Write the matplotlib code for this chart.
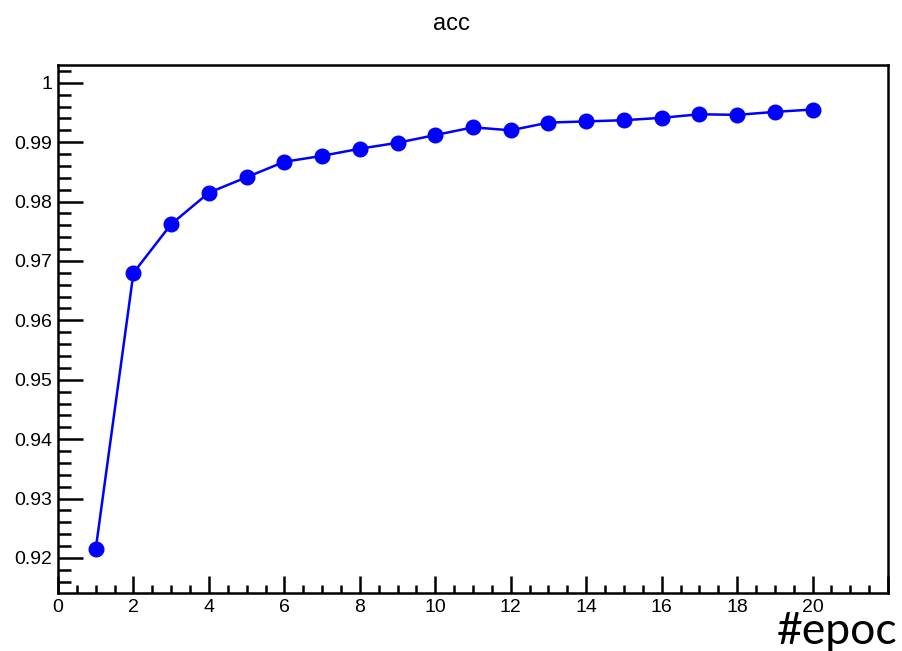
import matplotlib
matplotlib.use("Agg")
import matplotlib.pyplot as plt
from matplotlib.ticker import MultipleLocator

# accuracy per epoch
epochs = list(range(1, 21))
acc = [0.9215, 0.9680, 0.9762, 0.9815, 0.9841, 0.9867, 0.9877, 0.9889, 0.9899, 0.9912,
       0.9925, 0.9920, 0.9933, 0.9935, 0.9937, 0.9941, 0.9947, 0.9946, 0.9951, 0.9955]

plt.rcParams["font.family"] = "Liberation Sans"

fig = plt.figure(figsize=(9.02, 6.51), dpi=100)
ax = fig.add_axes([0.0643, 0.0891, 0.9202, 0.8111])

ax.plot(epochs, acc, "-o", color="#0000ff", linewidth=1.8, markersize=10.5)

ax.set_xlim(0, 22)
ax.set_ylim(0.9141, 1.003)
ax.xaxis.set_major_locator(MultipleLocator(2))
ax.xaxis.set_minor_locator(MultipleLocator(0.5))
ax.yaxis.set_major_locator(MultipleLocator(0.01))
ax.yaxis.set_minor_locator(MultipleLocator(0.002))
# ROOT style: no label on the last x tick at the axis end
ax.xaxis.set_major_formatter(plt.FuncFormatter(lambda v, _: "" if v > 21 else f"{v:g}"))
ax.yaxis.set_major_formatter(plt.FuncFormatter(lambda v, _: f"{v:.2f}".rstrip("0").rstrip(".")))

ax.tick_params(axis="both", which="both", direction="in", top=False, right=False,
               labelsize=14, width=1.8, color="black")
ax.tick_params(axis="y", which="major", length=18)
ax.tick_params(axis="y", which="minor", length=9)
ax.tick_params(axis="x", which="major", length=12)
ax.tick_params(axis="x", which="minor", length=6)
ax.tick_params(axis="y", pad=4)
ax.tick_params(axis="x", pad=4)
for s in ax.spines.values():
    s.set_linewidth(1.8)

fig.text(0.5, 0.963, "acc", ha="center", va="center", fontsize=17)
fig.text(0.995, -0.002, "#epoc", ha="right", va="bottom", fontsize=32, family="Lato")

fig.savefig("out.png", dpi=100)
